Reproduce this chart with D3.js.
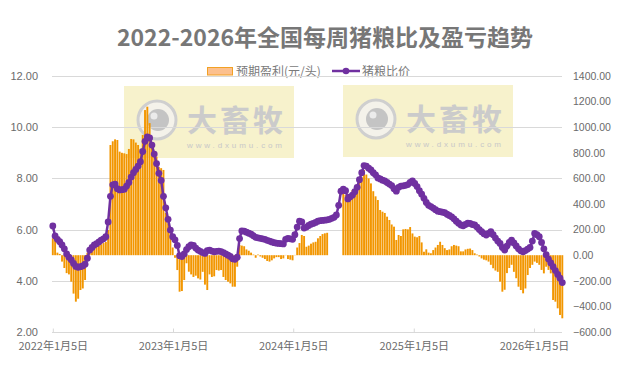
<!DOCTYPE html>
<html><head><meta charset="utf-8">
<script src="https://cdn.jsdelivr.net/npm/d3@7/dist/d3.min.js"></script>
<style>
body{margin:0;background:#fff;}
svg{display:block;}
text{font-family:"Liberation Sans","Noto Sans CJK SC",sans-serif;}
.cjk{font-family:"Noto Sans CJK SC","Liberation Sans",sans-serif;}
</style></head>
<body><svg id="c" width="624" height="371"></svg>
<script>
const title = "2022-2026年全国每周猪粮比及盈亏趋势";
const seriesNames = ["预期盈利(元/头)", "猪粮比价"];
const startDate = "2022-01-05";
const endDate = "2026-03-25";
const xTickDates = ["2022-01-05","2023-01-05","2024-01-05","2025-01-05","2026-01-05"];
const xTickLabels = ["2022年1月5日","2023年1月5日","2024年1月5日","2025年1月5日","2026年1月5日"];
const leftTicks = [2,4,6,8,10,12];
const rightTicks = [-600,-400,-200,0,200,400,600,800,1000,1200,1400];

// weekly pig-grain price ratio (left axis)
const ratio = [
6.14,5.75,5.62,5.53,5.40,5.25,5.05,4.92,4.82,4.68,
4.56,4.53,4.55,4.58,4.65,4.88,5.20,5.30,5.40,5.45,
5.52,5.59,5.64,5.72,6.30,7.30,7.75,7.78,7.60,7.55,
7.56,7.58,7.70,7.84,8.05,8.22,8.35,8.48,8.65,9.05,
9.45,9.62,9.58,9.30,8.95,8.58,8.20,7.92,7.30,6.85,
6.40,5.98,5.72,5.60,5.38,4.98,4.95,5.05,5.22,5.33,
5.40,5.38,5.28,5.20,5.15,5.10,5.07,5.18,5.20,5.16,
5.13,5.15,5.16,5.14,5.10,5.05,5.00,4.95,4.86,4.84,
4.92,5.65,5.95,5.94,5.90,5.86,5.82,5.76,5.70,5.68,
5.66,5.64,5.62,5.58,5.55,5.52,5.49,5.47,5.46,5.45,
5.44,5.62,5.66,5.64,5.62,5.80,6.10,6.33,6.30,6.06,
6.10,6.16,6.21,6.24,6.28,6.33,6.35,6.36,6.37,6.38,
6.40,6.44,6.48,6.57,6.95,7.50,7.58,7.52,7.20,7.28,
7.35,7.48,7.65,7.95,8.22,8.50,8.48,8.40,8.33,8.22,
8.14,8.02,7.98,7.93,7.90,7.84,7.78,7.72,7.60,7.50,
7.65,7.70,7.71,7.73,7.76,7.84,7.90,7.80,7.68,7.52,
7.38,7.22,7.06,6.95,6.90,6.84,6.78,6.72,6.70,6.68,
6.66,6.60,6.55,6.50,6.42,6.33,6.25,6.18,6.15,6.20,
6.25,6.24,6.20,6.18,6.10,6.00,5.92,5.84,5.79,5.85,
5.92,5.80,5.67,5.55,5.46,5.30,5.20,5.35,5.50,5.59,
5.48,5.36,5.25,5.17,5.13,5.18,5.24,5.30,5.55,5.85,
5.80,5.72,5.50,5.25,5.02,4.85,4.70,4.55,4.40,4.25,
4.10,3.93];

// weekly expected profit, yuan/head (right axis); null = no data
const profit = [
132,130,20,10,-50,-100,-140,-150,-207,-300,
-363,-340,-272,-260,-194,20,25,30,66,70,
75,85,95,103,197,861,890,905,900,809,
800,796,790,830,908,905,880,861,830,939,
1134,1160,1032,848,800,770,691,680,666,330,
250,171,60,-20,-116,-285,-280,-194,-63,-129,
-150,-170,-160,-181,-190,-130,-230,-272,-150,-170,
-165,-116,-120,-116,-170,-194,-207,-220,-246,-246,
-90,80,75,70,45,35,20,5,-20,5,
-10,-20,-30,-45,-50,-40,-25,-15,-15,-30,
-25,2,-30,-35,-40,2,60,95,158,150,
66,75,90,100,105,132,150,165,171,175,
null,null,null,null,null,null,509,470,431,470,
509,520,535,587,610,666,630,600,561,500,
460,431,353,340,330,301,275,240,223,119,
158,150,202,205,202,220,170,145,140,150,
100,27,46,20,15,40,60,80,105,80,
55,40,45,70,80,75,70,30,30,45,
50,52,40,15,5,-10,-25,-35,-40,-50,
-75,-102,-120,-130,-207,-285,-270,-140,-100,-75,
-130,-180,-246,-272,-298,-260,-155,-100,-75,-50,
-60,-75,-115,-142,-90,-115,-142,-350,-363,-415,
-467,-493];

const parse = d3.timeParse("%Y-%m-%d");
const t0 = parse(startDate);
const dates = ratio.map((_, i) => d3.timeWeek.offset(t0, i));

const svg = d3.select("#c");
const X0 = 52, X1 = 562, Y0 = 76, Y1 = 332;
const x = d3.scaleTime().domain([t0, parse(endDate)]).range([52.8, 560]);
const yL = d3.scaleLinear().domain([2, 12]).range([Y1, Y0]);
const yR = d3.scaleLinear().domain([-600, 1400]).range([Y1, Y0]);

// title
svg.append("text").attr("class","cjk").attr("x", 325).attr("y", 46)
  .attr("text-anchor","middle").attr("font-size", 23).attr("font-weight","bold")
  .attr("fill","#777777").text(title);

// legend
const lg = svg.append("g");
lg.append("rect").attr("x",207.5).attr("y",67.5).attr("width",25).attr("height",7.5)
  .attr("fill","#FCC08E").attr("stroke","#F2A124").attr("stroke-width",1);
lg.append("text").attr("class","cjk").attr("x",236).attr("y",75.5).attr("font-size",12)
  .attr("fill","#7a7a7a").text(seriesNames[0]);
lg.append("line").attr("x1",332).attr("x2",360).attr("y1",71).attr("y2",71)
  .attr("stroke","#7030A0").attr("stroke-width",2.5);
lg.append("circle").attr("cx",346).attr("cy",71).attr("r",3.3).attr("fill","#7030A0");
lg.append("text").attr("class","cjk").attr("x",362).attr("y",75.5).attr("font-size",12)
  .attr("fill","#7a7a7a").text(seriesNames[1]);

// watermarks
function watermark(bx, by){
  const g = svg.append("g");
  g.append("rect").attr("x",bx).attr("y",by).attr("width",170).attr("height",72)
    .attr("fill","#F6F1C6").attr("opacity",0.9);
  g.append("circle").attr("cx",bx+33).attr("cy",by+34).attr("r",19)
    .attr("fill","#f4f2ea").attr("stroke","#cfcfcf").attr("stroke-width",3);
  g.append("circle").attr("cx",bx+34).attr("cy",by+34).attr("r",11).attr("fill","#c4c4c4");
  g.append("circle").attr("cx",bx+30).attr("cy",by+30).attr("r",3.5).attr("fill","#ebebeb");
  g.append("text").attr("class","cjk").attr("x",bx+63).attr("y",by+45)
    .attr("font-size",30).attr("font-weight","bold").attr("fill","#cbcbcb")
    .attr("textLength",96).text("大畜牧");
  g.append("text").attr("x",bx+63).attr("y",by+62).attr("font-size",8)
    .attr("fill","#c8c8c8").attr("textLength",95).text("www.dxumu.com");
}
watermark(124, 86);
watermark(343, 85);

// gridlines
svg.append("g").selectAll("line").data(leftTicks.slice(1)).join("line")
  .attr("x1",X0).attr("x2",X1).attr("y1",d=>Math.round(yL(d))+0.5).attr("y2",d=>Math.round(yL(d))+0.5)
  .attr("stroke","#d9d9d9").attr("stroke-width",1);

// bottom axis
const xAxis = d3.axisBottom(x).tickValues(xTickDates.map(parse))
  .tickFormat((d,i)=>xTickLabels[i]).tickSizeInner(-4).tickSizeOuter(0).tickPadding(10);
const gx = svg.append("g").attr("transform",`translate(0,${Y1+0.5})`).call(xAxis);
gx.select(".domain").attr("d",`M${X0},0H${X1}`).attr("stroke","#d9d9d9");
gx.selectAll(".tick line").attr("stroke","#d9d9d9");
gx.selectAll("text").attr("class","cjk").attr("font-size",11).attr("fill","#6b6b6b");

// left axis
const gl = svg.append("g").attr("transform",`translate(${X0},0)`)
  .call(d3.axisLeft(yL).tickValues(leftTicks).tickFormat(d3.format(".2f")).tickSize(0).tickPadding(14));
gl.select(".domain").remove();
gl.selectAll("text").attr("font-size",11).attr("fill","#6b6b6b");

// right axis
const gr = svg.append("g").attr("transform",`translate(${X1},0)`)
  .call(d3.axisRight(yR).tickValues(rightTicks).tickFormat(d3.format(".2f")).tickSize(0).tickPadding(11));
gr.select(".domain").remove();
gr.selectAll("text").attr("font-size",10.5).attr("fill","#6b6b6b");

// bars
const bw = 1.9;
svg.append("g").selectAll("rect").data(profit.map((v,i)=>({v,d:dates[i]})).filter(o=>o.v!==null))
  .join("rect")
  .attr("x", o => x(o.d) - bw/2)
  .attr("width", bw)
  .attr("y", o => Math.min(yR(o.v), yR(0)))
  .attr("height", o => Math.abs(yR(o.v) - yR(0)))
  .attr("fill", "#F29600");

// line
const pts = ratio.map((v,i)=>({v,d:dates[i]}));
svg.append("path").datum(pts)
  .attr("d", d3.line().x(o=>x(o.d)).y(o=>yL(o.v)))
  .attr("fill","none").attr("stroke","#7030A0").attr("stroke-width",2.5);
svg.append("g").selectAll("circle").data(pts).join("circle")
  .attr("cx",o=>x(o.d)).attr("cy",o=>yL(o.v)).attr("r",3.4).attr("fill","#7030A0");
</script></body></html>
